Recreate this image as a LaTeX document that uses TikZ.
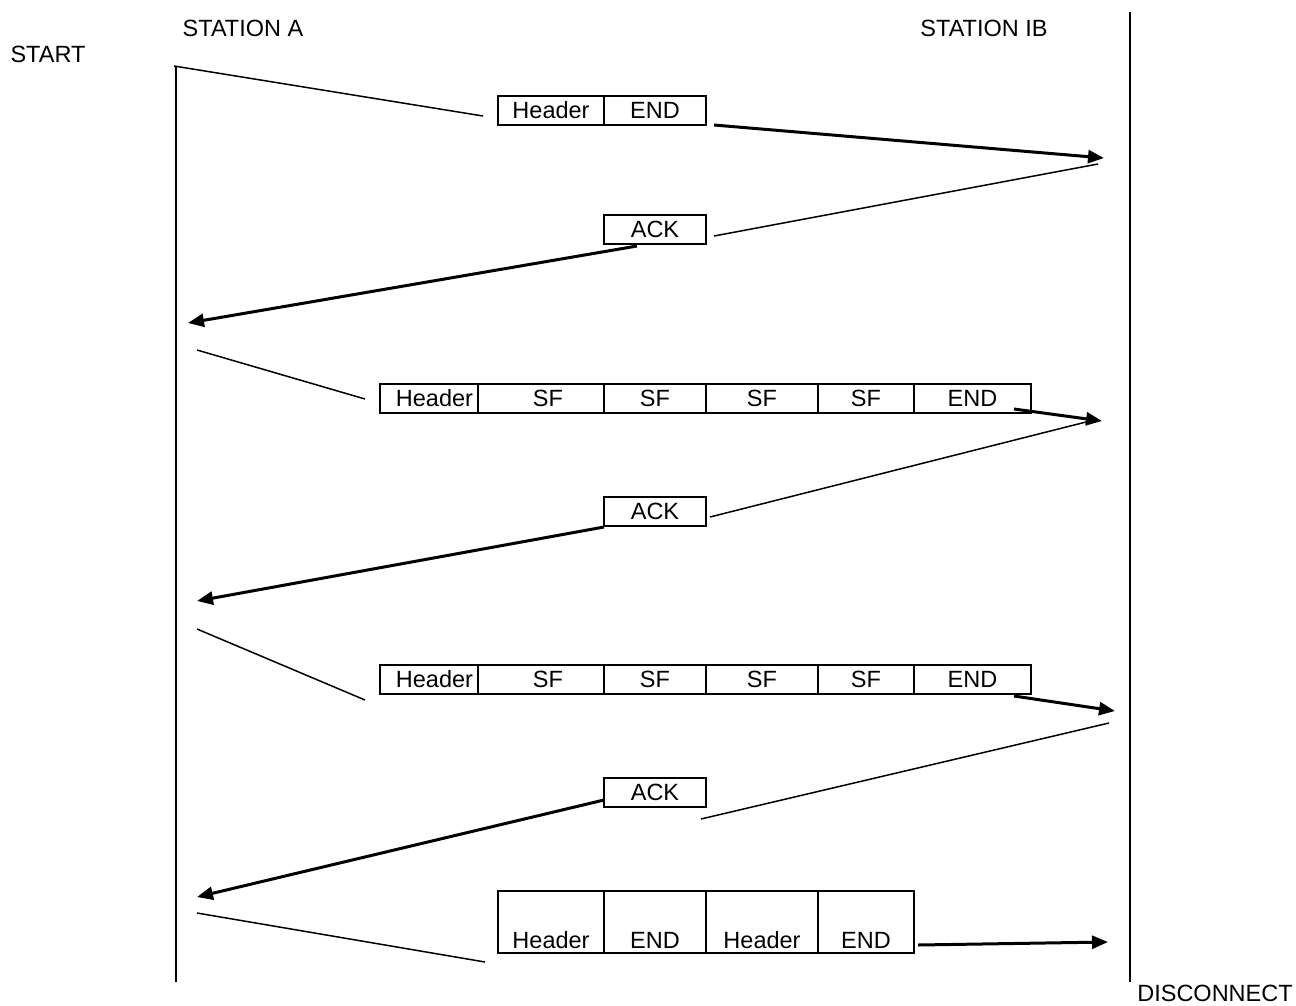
\documentclass[tikz,border=0pt]{standalone}
\usepackage{fontspec}
\setmainfont{Liberation Sans}
\usetikzlibrary{arrows.meta}
\begin{document}
\begin{tikzpicture}[x=1pt,y=-1pt,
  txt/.style={font=\fontsize{23.5}{28}\selectfont, inner sep=0pt},
  cell/.style={draw, line width=2pt, font=\fontsize{23.5}{28}\selectfont, minimum height=29pt, inner sep=0pt, outer sep=0pt, text height=16.8pt, text depth=0pt},
  tallcell/.style={draw, line width=2pt, minimum height=62pt, inner sep=0pt, outer sep=0pt},
  thin/.style={line width=1.5pt},
  thick/.style={line width=3pt, -{Triangle[length=16pt,width=13pt]}},
  life/.style={line width=2pt}]
\useasboundingbox (0,0) rectangle (1296,1005);

% labels
\node[txt] (sa) at (243,28) {STATION A};
\node[txt] (sb) at (984,28) {STATION IB};
\node[txt] (st) at (48,54) {START};
\node[txt] (dc) at (1215,993) {DISCONNECT};

% lifelines
\coordinate (aTop) at (176,66);
\coordinate (aBot) at (176,982);
\coordinate (bTop) at (1130,12);
\coordinate (bBot) at (1130,982);
\draw[life] (aTop) -- (aBot);
\draw[life] (bTop) -- (bBot);

% frame 1
\node[cell, minimum width=106pt] (f1h) at (551,110.5) {Header};
\node[cell, minimum width=102pt] (f1e) at (655,110.5) {END};
\node[cell, minimum width=102pt] (k1) at (655,229) {ACK};

% frame 2
\node[cell, minimum width=98pt]  (f2a) at (429,398.5) {\hspace*{11pt}Header};
\node[cell, minimum width=126pt] (f2b) at (541,398.5) {\hspace*{14pt}SF};
\node[cell, minimum width=102pt] (f2c) at (655,398.5) {SF};
\node[cell, minimum width=112pt] (f2d) at (762,398.5) {SF};
\node[cell, minimum width=96pt]  (f2e) at (866,398.5) {SF};
\node[cell, minimum width=117pt] (f2f) at (972.5,398.5) {END};
\node[cell, minimum width=102pt] (k2) at (655,511.5) {ACK};

% frame 3
\node[cell, minimum width=98pt]  (f3a) at (429,679.5) {\hspace*{11pt}Header};
\node[cell, minimum width=126pt] (f3b) at (541,679.5) {\hspace*{14pt}SF};
\node[cell, minimum width=102pt] (f3c) at (655,679.5) {SF};
\node[cell, minimum width=112pt] (f3d) at (762,679.5) {SF};
\node[cell, minimum width=96pt]  (f3e) at (866,679.5) {SF};
\node[cell, minimum width=117pt] (f3f) at (972.5,679.5) {END};
\node[cell, minimum width=102pt] (k3) at (655,792.5) {ACK};

% frame 4
\node[tallcell, minimum width=106pt] (f4a) at (551,922) {};
\node[tallcell, minimum width=102pt] (f4b) at (655,922) {};
\node[tallcell, minimum width=112pt] (f4c) at (762,922) {};
\node[tallcell, minimum width=96pt]  (f4d) at (866,922) {};
\node[txt, anchor=base] (t4a) at (551,948) {Header};
\node[txt, anchor=base] (t4b) at (655,948) {END};
\node[txt, anchor=base] (t4c) at (762,948) {Header};
\node[txt, anchor=base] (t4d) at (866,948) {END};

% connector end points
\coordinate (p1) at (174,66);   \coordinate (p2) at (483,116);
\coordinate (p3) at (714,125);  \coordinate (p4) at (1104,158);
\coordinate (p5) at (1098,164); \coordinate (p6) at (714,236);
\coordinate (p7) at (637,246);  \coordinate (p8) at (188,323);
\coordinate (p9) at (197,350);  \coordinate (p10) at (365,399);
\coordinate (p11) at (1014,409);\coordinate (p12) at (1102,421);
\coordinate (p13) at (1090,421);\coordinate (p14) at (710,517);
\coordinate (p15) at (604,527); \coordinate (p16) at (197,601);
\coordinate (p17) at (197,629); \coordinate (p18) at (365,700);
\coordinate (p19) at (1014,696);\coordinate (p20) at (1115,711);
\coordinate (p21) at (1109,723);\coordinate (p22) at (701,819);
\coordinate (p23) at (604,800); \coordinate (p24) at (197,897);
\coordinate (p25) at (197,913); \coordinate (p26) at (485,962);
\coordinate (p27) at (918,945); \coordinate (p28) at (1108,942);

\draw[thin] (p1) -- (p2);
\draw[thick] (p3) -- (p4);
\draw[thin] (p5) -- (p6);
\draw[thick] (p7) -- (p8);
\draw[thin] (p9) -- (p10);
\draw[thick] (p11) -- (p12);
\draw[thin] (p13) -- (p14);
\draw[thick] (p15) -- (p16);
\draw[thin] (p17) -- (p18);
\draw[thick] (p19) -- (p20);
\draw[thin] (p21) -- (p22);
\draw[thick] (p23) -- (p24);
\draw[thin] (p25) -- (p26);
\draw[thick] (p27) -- (p28);
\end{tikzpicture}
\end{document}
